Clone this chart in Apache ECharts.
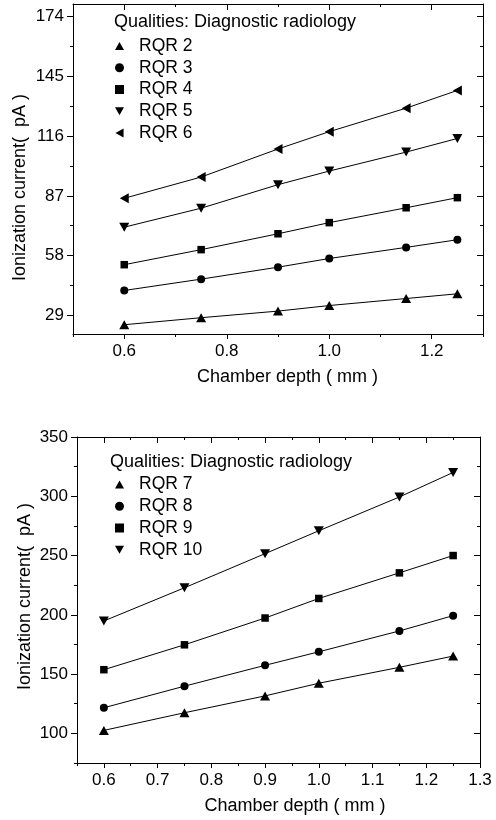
<!DOCTYPE html>
<html><head><meta charset="utf-8">
<script src="https://cdn.jsdelivr.net/npm/echarts@6/dist/echarts.min.js"></script>
<style>html,body{margin:0;padding:0;background:#fff}#c{width:496px;height:820px}</style>
</head><body><div id="c"></div>
<script>
// ---- data ----
const depth = [0.6, 0.75, 0.9, 1.0, 1.15, 1.25];
const rqr2 = [24.5, 27.9, 31.1, 33.8, 37.2, 39.5];
const rqr3 = [41.1, 46.6, 52.4, 56.6, 62.0, 65.7];
const rqr4 = [53.6, 60.9, 68.6, 74.0, 81.2, 86.1];
const rqr5 = [71.8, 81.0, 92.4, 99.0, 108.2, 114.8];
const rqr6 = [85.8, 96.1, 109.7, 118.1, 129.5, 138.1];
const rqr7 = [102.5, 117.4, 131.6, 142.3, 155.7, 165.2];
const rqr8 = [121.6, 139.8, 157.4, 168.8, 186.4, 199.3];
const rqr9 = [153.7, 174.7, 197.3, 213.8, 235.4, 250.0];
const rqr10 = [194.8, 222.8, 251.6, 270.9, 299.4, 320.1];

const topXMajor = [0.6, 0.8, 1.0, 1.2];
const topXMinor = [0.5, 0.7, 0.9, 1.1, 1.3];
const topYMajor = [29, 58, 87, 116, 145, 174];
const topYMinor = [43.5, 72.5, 101.5, 130.5, 159.5];
const botXMajor = [0.6, 0.7, 0.8, 0.9, 1.0, 1.1, 1.2, 1.3];
const botXMinor = [0.55, 0.65, 0.75, 0.85, 0.95, 1.05, 1.15, 1.25];
const botYMajor = [100, 150, 200, 250, 300, 350];
const botYMinor = [75, 125, 175, 225, 275, 325];

const heading = 'Qualities: Diagnostic radiology';
const xTitle = 'Chamber depth ( mm )';
const yTitle = 'Ionization current(  pA )';

// ---- style ----
const FONT = "'Liberation Sans', Arial, sans-serif";
const SYM = {
  up: 'path://M5,0L10,9L0,9Z',
  down: 'path://M0,0L10,0L5,9Z',
  left: 'path://M0,5L9,0L9,10Z',
  circle: 'circle',
  square: 'rect'
};
const black = '#000';

function xAxes(gi, min, max, major, minor, fmt) {
  const base = {type: 'value', min: min, max: max, splitLine: {show: false}};
  return [
    Object.assign({}, base, {gridIndex: gi, position: 'bottom',
      axisLine: {show: true, lineStyle: {color: black, width: 1}},
      axisTick: {show: true, inside: false, length: 5, customValues: major, lineStyle: {color: black}},
      axisLabel: {show: true, customValues: major, formatter: fmt, color: black, fontSize: 17, fontFamily: FONT, margin: 9}}),
    Object.assign({}, base, {gridIndex: gi, position: 'top',
      axisLine: {show: true, lineStyle: {color: black, width: 1}},
      axisTick: {show: true, inside: true, length: 6, customValues: major, lineStyle: {color: black}},
      axisLabel: {show: false}}),
    Object.assign({}, base, {gridIndex: gi + 1, position: 'bottom',
      axisLine: {show: false},
      axisTick: {show: true, inside: false, length: 3, customValues: minor, lineStyle: {color: black}},
      axisLabel: {show: false}}),
    Object.assign({}, base, {gridIndex: gi + 1, position: 'top',
      axisLine: {show: false},
      axisTick: {show: true, inside: true, length: 3, customValues: minor, lineStyle: {color: black}},
      axisLabel: {show: false}})
  ];
}
function yAxes(gi, min, max, major, minor, fmt) {
  const base = {type: 'value', min: min, max: max, splitLine: {show: false}};
  return [
    Object.assign({}, base, {gridIndex: gi, position: 'left',
      axisLine: {show: true, lineStyle: {color: black, width: 1}},
      axisTick: {show: true, inside: false, length: 6, customValues: major, lineStyle: {color: black}},
      axisLabel: {show: true, customValues: major, formatter: fmt, color: black, fontSize: 17, fontFamily: FONT, margin: 9}}),
    Object.assign({}, base, {gridIndex: gi, position: 'right',
      axisLine: {show: true, lineStyle: {color: black, width: 1}},
      axisTick: {show: true, inside: true, length: 6, customValues: major, lineStyle: {color: black}},
      axisLabel: {show: false}}),
    Object.assign({}, base, {gridIndex: gi + 1, position: 'left',
      axisLine: {show: false},
      axisTick: {show: true, inside: false, length: 3, customValues: minor, lineStyle: {color: black}},
      axisLabel: {show: false}}),
    Object.assign({}, base, {gridIndex: gi + 1, position: 'right',
      axisLine: {show: false},
      axisTick: {show: true, inside: true, length: 3, customValues: minor, lineStyle: {color: black}},
      axisLabel: {show: false}})
  ];
}

function mkSeries(name, values, symbol, size, axisIdx) {
  return {
    name: name, type: 'line', xAxisIndex: axisIdx, yAxisIndex: axisIdx,
    data: depth.map((d, i) => [d, values[i]]),
    symbol: symbol, symbolSize: size, showSymbol: true,
    lineStyle: {color: black, width: 1}, itemStyle: {color: black},
    emphasis: {disabled: true}, z: 3
  };
}

const fmt1 = v => v.toFixed(1);
const fmt0 = v => String(v);

const gridTop = {left: 73, right: 13, top: 4, bottom: 486};
const gridBot = {left: 77, right: 16, top: 437, bottom: 57};

const legendText = {color: black, fontSize: 17.5, fontFamily: FONT, padding: [0, 0, 0, 10], lineHeight: 18};

const option = {
  animation: false,
  backgroundColor: '#fff',
  grid: [
    Object.assign({}, gridTop), Object.assign({}, gridTop),
    Object.assign({}, gridBot), Object.assign({}, gridBot)
  ],
  xAxis: [].concat(
    xAxes(0, 0.5, 1.3, topXMajor, topXMinor, fmt1),
    xAxes(2, 0.55, 1.3, botXMajor, botXMinor, fmt1)
  ),
  yAxis: [].concat(
    yAxes(0, 20, 180, topYMajor, topYMinor, fmt0),
    yAxes(2, 75, 350, botYMajor, botYMinor, fmt0)
  ),
  legend: [
    {left: 110, top: 32, orient: 'vertical', itemWidth: 9, itemHeight: 9, itemGap: 3.75,
     selectedMode: false, textStyle: legendText,
     data: [
       {name: 'RQR 2', icon: SYM.up}, {name: 'RQR 3', icon: SYM.circle},
       {name: 'RQR 4', icon: SYM.square}, {name: 'RQR 5', icon: SYM.down},
       {name: 'RQR 6', icon: SYM.left}]},
    {left: 110, top: 470.5, orient: 'vertical', itemWidth: 9, itemHeight: 9, itemGap: 3.75,
     selectedMode: false, textStyle: legendText,
     data: [
       {name: 'RQR 7', icon: SYM.up}, {name: 'RQR 8', icon: SYM.circle},
       {name: 'RQR 9', icon: SYM.square}, {name: 'RQR 10', icon: SYM.down}]}
  ],
  series: [
    mkSeries('RQR 2', rqr2, SYM.up, [10, 9], 0),
    mkSeries('RQR 3', rqr3, SYM.circle, 8, 0),
    mkSeries('RQR 4', rqr4, SYM.square, 7.5, 0),
    mkSeries('RQR 5', rqr5, SYM.down, [10, 9], 0),
    mkSeries('RQR 6', rqr6, SYM.left, [9, 10], 0),
    mkSeries('RQR 7', rqr7, SYM.up, [10, 9], 4),
    mkSeries('RQR 8', rqr8, SYM.circle, 8, 4),
    mkSeries('RQR 9', rqr9, SYM.square, 7.5, 4),
    mkSeries('RQR 10', rqr10, SYM.down, [10, 9], 4)
  ],
  graphic: [
    {type: 'text', x: 114, y: 22, style: {text: heading, fontSize: 18, fontFamily: FONT, fill: black, align: 'left', verticalAlign: 'middle'}},
    {type: 'text', x: 110, y: 461.7, style: {text: heading, fontSize: 18, fontFamily: FONT, fill: black, align: 'left', verticalAlign: 'middle'}},
    {type: 'text', x: 287.5, y: 377, style: {text: xTitle, fontSize: 18, fontFamily: FONT, fill: black, align: 'center', verticalAlign: 'middle'}},
    {type: 'text', x: 295, y: 806, style: {text: xTitle, fontSize: 18, fontFamily: FONT, fill: black, align: 'center', verticalAlign: 'middle'}},
    {type: 'text', x: 20, y: 187.5, rotation: Math.PI / 2, style: {text: yTitle, fontSize: 18, fontFamily: FONT, fill: black, align: 'center', verticalAlign: 'middle'}},
    {type: 'text', x: 25, y: 596.5, rotation: Math.PI / 2, style: {text: yTitle, fontSize: 18, fontFamily: FONT, fill: black, align: 'center', verticalAlign: 'middle'}}
  ]
};

const chart = echarts.init(document.getElementById('c'), null, {renderer: 'canvas'});
chart.setOption(option);
</script>
</body></html>
